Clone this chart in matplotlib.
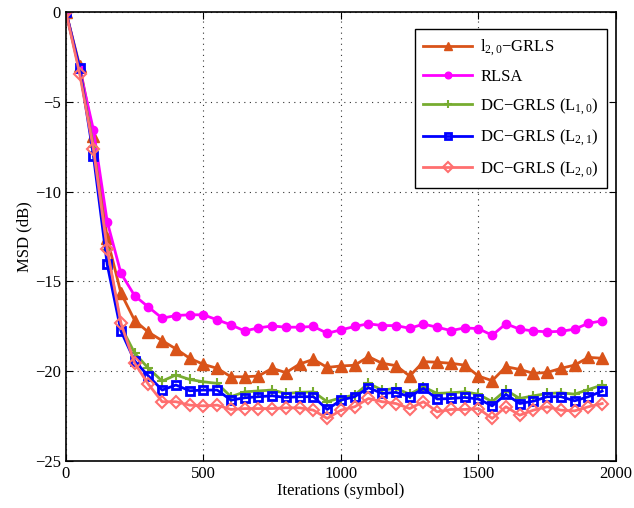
"""MSD learning curves for the GRLS variants
"""

import numpy as np
import matplotlib
matplotlib.use('Agg')
import matplotlib.pyplot as plt

# data, one point every 50 symbols
iterations = np.arange(0, 2000, 50)

msd_l20_grls = [0, -3.0, -6.9, -12.6, -15.65, -17.18, -17.83, -18.3, -18.76, -19.28,
                -19.62, -19.84, -20.31, -20.31, -20.27, -19.84, -20.08, -19.6, -19.34, -19.79,
                -19.71, -19.67, -19.19, -19.56, -19.69, -20.27, -19.47, -19.5, -19.56, -19.66,
                -20.27, -20.53, -19.75, -19.9, -20.12, -20.07, -19.84, -19.66, -19.23, -19.28]
msd_rlsa = [0, -3.2, -6.56, -11.67, -14.55, -15.8, -16.43, -17.05, -16.9, -16.86,
            -16.86, -17.14, -17.42, -17.76, -17.59, -17.48, -17.55, -17.55, -17.51, -17.89,
            -17.7, -17.51, -17.36, -17.46, -17.46, -17.61, -17.38, -17.55, -17.74, -17.59,
            -17.63, -18.0, -17.36, -17.66, -17.76, -17.81, -17.78, -17.66, -17.33, -17.2]
msd_dc_l10 = [0, -3.3, -7.5, -13.25, -17.5, -19.0, -19.84, -20.55, -20.21, -20.46,
              -20.59, -20.68, -21.42, -21.15, -21.1, -21.05, -21.24, -21.18, -21.15, -21.7,
              -21.48, -21.33, -20.68, -21.05, -20.96, -21.28, -20.87, -21.24, -21.2, -21.15,
              -21.28, -21.7, -21.05, -21.52, -21.37, -21.24, -21.2, -21.28, -21.02, -20.77]
msd_dc_l21 = [0, -3.12, -8.0, -14.05, -17.76, -19.43, -20.27, -21.05, -20.77, -21.09,
              -21.05, -21.05, -21.61, -21.48, -21.42, -21.37, -21.46, -21.42, -21.42, -22.13,
              -21.61, -21.42, -20.92, -21.24, -21.18, -21.42, -20.96, -21.55, -21.52, -21.46,
              -21.55, -21.93, -21.29, -21.8, -21.67, -21.42, -21.42, -21.65, -21.42, -21.11]
msd_dc_l20 = [0, -3.44, -7.64, -13.2, -17.33, -19.56, -20.73, -21.7, -21.7, -21.89,
              -21.93, -21.89, -22.13, -22.08, -22.08, -22.08, -22.04, -22.04, -22.17, -22.63,
              -22.17, -21.98, -21.52, -21.7, -21.8, -22.08, -21.7, -22.26, -22.13, -22.13,
              -22.08, -22.63, -21.98, -22.45, -22.17, -21.98, -22.17, -22.21, -21.98, -21.8]

labels = [r'l$_{2,0}$$-$GRLS', 'RLSA', r'DC$-$GRLS (L$_{1,0}$)',
          r'DC$-$GRLS (L$_{2,1}$)', r'DC$-$GRLS (L$_{2,0}$)']

# fonts: MATLAB-ish Times look
plt.rcParams['font.family'] = ['Liberation Serif', 'DejaVu Serif']
plt.rcParams['mathtext.fontset'] = 'custom'
plt.rcParams['mathtext.rm'] = 'Liberation Serif'
plt.rcParams['mathtext.it'] = 'Liberation Serif:italic'
plt.rcParams['mathtext.bf'] = 'Liberation Serif:bold'

fig = plt.figure(figsize=(6.34, 5.08), dpi=100)
ax = fig.add_axes([0.104, 0.0925, 0.8675, 0.884])

ax.plot(iterations, msd_l20_grls, '-^', color='#D95319', lw=2, ms=8,
        mfc='#D95319', mec='#D95319', label=labels[0])
ax.plot(iterations, msd_rlsa, '-o', color='#FF00FF', lw=2, ms=6,
        mfc='#FF00FF', mec='#FF00FF', label=labels[1])
ax.plot(iterations, msd_dc_l10, '-+', color='#77AC30', lw=2, ms=7,
        mew=1.5, label=labels[2])
ax.plot(iterations, msd_dc_l21, '-s', color='#0000FF', lw=2, ms=6,
        mfc='none', mec='#0000FF', mew=2, label=labels[3])
ax.plot(iterations, msd_dc_l20, '-D', color='#FF6F6F', lw=2, ms=6,
        mfc='none', mec='#FF6F6F', mew=1.5, label=labels[4])

ax.set_xlim(0, 2000)
ax.set_ylim(-25, 0)
ax.set_xticks(np.arange(0, 2001, 500))
ax.set_yticks(np.arange(-25, 1, 5))
ax.set_yticklabels(['\u221225', '\u221220', '\u221215', '\u221210', '\u22125', '0'])
ax.grid(True, linestyle=(0, (1, 4)), color='#333333', linewidth=0.8)
ax.tick_params(direction='in', labelsize=12, length=5, top=True, right=True)
for s in ax.spines.values():
    s.set_linewidth(1.2)

ax.set_xlabel('Iterations (symbol)', fontsize=12, labelpad=1)
ax.set_ylabel('MSD (dB)', fontsize=12, labelpad=2)

leg = ax.legend(loc='upper right', bbox_to_anchor=(0.9836, 0.962), fontsize=12,
                fancybox=False, edgecolor='black', framealpha=1, borderaxespad=0,
                handlelength=2.9, borderpad=0.5, labelspacing=0.65, handletextpad=0.5,
                markerscale=0.8)
leg.get_frame().set_linewidth(1.0)

fig.savefig('out.png', dpi=100)
